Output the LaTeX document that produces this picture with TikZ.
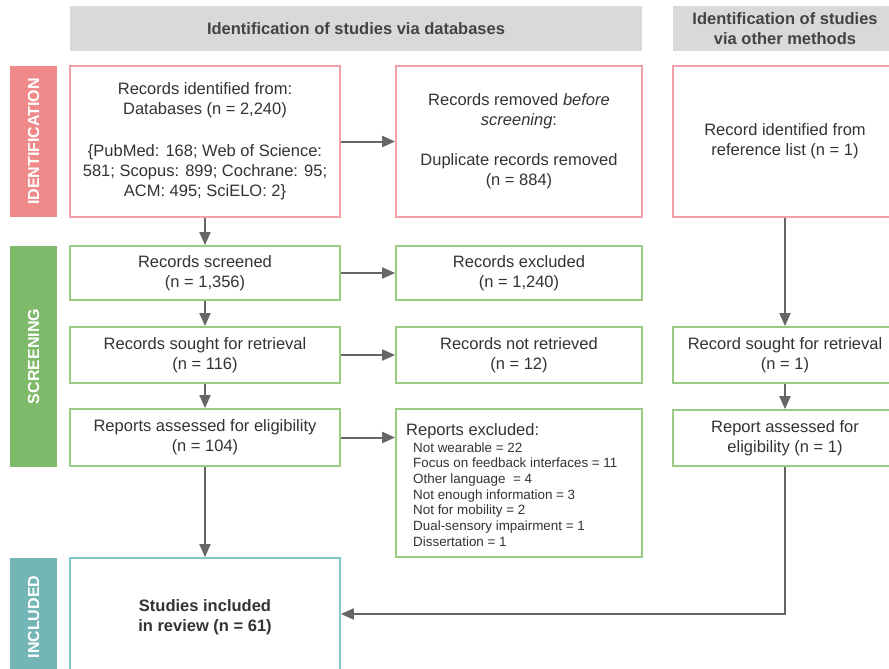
\documentclass[tikz,border=0pt]{standalone}
\usepackage{fontspec}
\setmainfont{Liberation Sans}
\usetikzlibrary{arrows.meta}
\definecolor{pinkband}{HTML}{F08A8A}
\definecolor{pinkline}{HTML}{F0A0A8}
\definecolor{greenband}{HTML}{7FBA6B}
\definecolor{greenline}{HTML}{99CA82}
\definecolor{tealband}{HTML}{74B6B6}
\definecolor{tealline}{HTML}{80C8C8}
\definecolor{hdrfill}{HTML}{D9D9D9}
\definecolor{hdrtext}{HTML}{434343}
\definecolor{txt}{HTML}{333333}
\definecolor{arrowc}{HTML}{666666}
\tikzset{
  box/.style={draw=#1, line width=1.8pt, fill=white, align=center, inner sep=0pt,
    text=txt, font=\fontsize{16.5}{20}\selectfont},
  band/.style={fill=#1, draw=none, text=white, inner sep=0pt,
    font=\bfseries\fontsize{16}{19}\selectfont, rotate=90},
  hdr/.style={fill=hdrfill, draw=none, text=hdrtext, align=center, inner sep=0pt,
    font=\bfseries\fontsize{16.5}{20}\selectfont},
  conn/.style={draw=arrowc, line width=2pt, -{Triangle[length=13pt,width=11pt]}},
  listline/.style={anchor=base west, inner sep=0pt, text=txt, font=\fontsize{13.4}{15.7}\selectfont}
}
\begin{document}
\begin{tikzpicture}[x=1pt,y=-1pt]
\useasboundingbox (0,0) rectangle (889,669);
\clip (0,0) rectangle (889,669);
% headers
\node[hdr, minimum width=572, minimum height=45] (h1) at (356,28.5) {Identification of studies via databases};
\node[hdr, minimum width=224, minimum height=45] (h2) at (785,28.5) {Identification of studies\\via other methods};
% bands
\node[band=pinkband, minimum width=151, minimum height=47] (bid) at (33.5,141.5) {IDENTIFICATION};
\node[band=greenband, minimum width=221, minimum height=47] (bsc) at (33.5,356.5) {SCREENING};
\node[band=tealband, minimum width=118, minimum height=47] (bin) at (33.5,617) {INCLUDED};
% identification
\node[box=pinkline, minimum width=270, minimum height=151] (id1) at (205,141.5)
  {Records identified from:\\Databases (n = 2,240)\\[22pt]\{PubMed: 168; Web of Science:\\581; Scopus: 899; Cochrane: 95;\\ACM: 495; SciELO: 2\}};
\node[box=pinkline, minimum width=246, minimum height=151] (id2) at (519,141.5)
  {Records removed \textit{before}\\\textit{screening}:\\[20pt]Duplicate records removed\\(n = 884)};
\node[box=pinkline, minimum width=224, minimum height=151] (id3) at (785,141.5)
  {Record identified from\\reference list (n = 1)};
% screening
\node[box=greenline, minimum width=270, minimum height=54] (sc1) at (205,273) {Records screened\\(n = 1,356)};
\node[box=greenline, minimum width=246, minimum height=54] (ex1) at (519,273) {Records excluded\\(n = 1,240)};
\node[box=greenline, minimum width=270, minimum height=56] (sc2) at (205,355) {Records sought for retrieval\\(n = 116)};
\node[box=greenline, minimum width=246, minimum height=56] (ex2) at (519,355) {Records not retrieved\\(n = 12)};
\node[box=greenline, minimum width=270, minimum height=57] (sc3) at (205,437.5) {Reports assessed for eligibility\\(n = 104)};
\node[box=greenline, minimum width=246, minimum height=148] (ex3) at (519,483) {};
\node[anchor=base west, inner sep=0pt, text=txt, font=\fontsize{16.5}{20}\selectfont] (ex3t) at (406,435) {Reports excluded:};
\foreach \t [count=\i] in {Not wearable = 22, Focus on feedback interfaces = 11, Other language \ = 4,
  Not enough information = 3, Not for mobility = 2, Dual-sensory impairment = 1, Dissertation = 1}
  \node[listline] (ex3l\i) at (413,{452+15.7*(\i-1)}) {\t};
\node[box=greenline, minimum width=224, minimum height=56] (ot2) at (785,355) {Record sought for retrieval\\(n = 1)};
\node[box=greenline, minimum width=224, minimum height=56] (ot3) at (785,438) {Report assessed for\\eligibility (n = 1)};
% included
\node[box=tealline, minimum width=270, minimum height=118, font=\bfseries\fontsize{16.5}{20}\selectfont] (inc) at (205,617) {Studies included\\in review (n = 61)};
% connectors
\draw[conn] (id1.east) -- (id2.west);
\draw[conn] (id1.south) -- (sc1.north);
\draw[conn] (sc1.east) -- (ex1.west);
\draw[conn] (sc1.south) -- (sc2.north);
\draw[conn] (sc2.east) -- (ex2.west);
\draw[conn] (sc2.south) -- (sc3.north);
\draw[conn] (sc3.east) -- (sc3.east -| ex3.west);
\draw[conn] (sc3.south) -- (inc.north);
\draw[conn] (id3.south) -- (ot2.north);
\draw[conn] (ot2.south) -- (ot3.north);
\draw[conn] (ot3.south) |- ([yshift=3pt]inc.east);
\end{tikzpicture}
\end{document}
